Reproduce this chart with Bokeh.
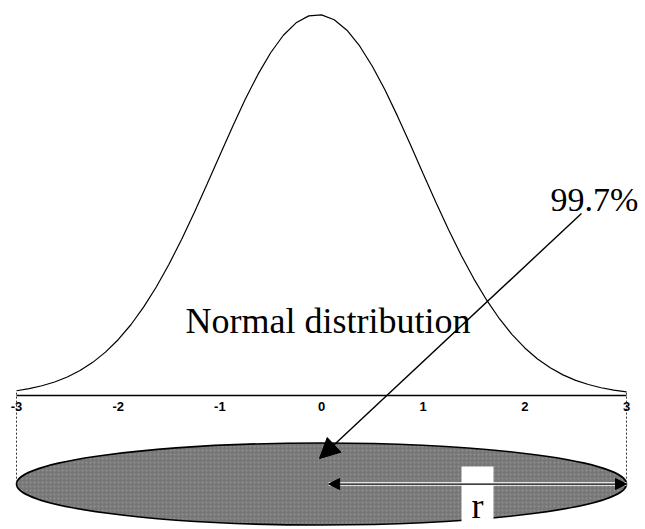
from bokeh.plotting import figure
from bokeh.models import Range1d, LinearAxis, FixedTicker, Arrow, NormalHead, Label
from bokeh.embed import file_html
from bokeh.resources import INLINE

# ---- data ----
z_values = [-3.0, -2.875, -2.75, -2.625, -2.5, -2.375, -2.25, -2.125,
            -2.0, -1.875, -1.75, -1.625, -1.5, -1.375, -1.25, -1.125,
            -1.0, -0.875, -0.75, -0.625, -0.5, -0.375, -0.25, -0.125,
            0.0, 0.125, 0.25, 0.375, 0.5, 0.625, 0.75, 0.875,
            1.0, 1.125, 1.25, 1.375, 1.5, 1.625, 1.75, 1.875,
            2.0, 2.125, 2.25, 2.375, 2.5, 2.625, 2.75, 2.875, 3.0]
density = [0.005, 0.0072, 0.0102, 0.0141, 0.0194, 0.0261, 0.0347, 0.0454,
           0.0584, 0.0741, 0.0925, 0.1136, 0.1374, 0.1637, 0.1919, 0.2215,
           0.2516, 0.2815, 0.3101, 0.3362, 0.3589, 0.3772, 0.3902, 0.3975,
           0.3986, 0.3935, 0.3825, 0.3660, 0.3448, 0.3198, 0.2920, 0.2625,
           0.2323, 0.2024, 0.1736, 0.1466, 0.1219, 0.0998, 0.0804, 0.0638,
           0.0498, 0.0383, 0.0290, 0.0216, 0.0158, 0.0115, 0.0081, 0.0057, 0.0039]
tick_values = [-3, -2, -1, 0, 1, 2, 3]
tick_labels = ["-3", "-2", "-1", "0", "1", "2", "3"]
coverage_label = "99.7%"
title_label = "Normal distribution"
radius_label = "r"
sigma_limit = 3

# ---- figure ----
p = figure(width=645, height=529, output_backend="svg", toolbar_location=None,
           x_range=Range1d(-3.1574, 3.1869), y_range=Range1d(-0.1403, 0.4136),
           x_axis_type=None, y_axis_type=None, min_border=0,
           background_fill_color="white", border_fill_color="white")
p.outline_line_color = None
p.xgrid.visible = False
p.ygrid.visible = False

# axis through y = 0
ax = LinearAxis(fixed_location=0, bounds=(tick_values[0], tick_values[-1]),
                ticker=FixedTicker(ticks=tick_values),
                major_label_overrides={v: s for v, s in zip(tick_values, tick_labels)})
ax.axis_line_color = "black"
ax.axis_line_width = 1.6
ax.major_tick_line_color = None
ax.minor_tick_line_color = None
ax.major_tick_in = 0
ax.major_tick_out = 0
ax.major_label_standoff = 6
ax.major_label_text_font = "Liberation Sans Narrow, Liberation Sans, sans-serif"
ax.major_label_text_font_style = "bold"
ax.major_label_text_font_size = "13px"
ax.major_label_text_color = "black"
p.add_layout(ax, "below")

# normal curve
p.line(z_values, density, line_color="black", line_width=1.2)

# ellipse (radius = sigma_limit)
ell_y = -0.0927
p.ellipse(x=[0], y=[ell_y], width=[2 * sigma_limit], height=[0.0859],
          fill_color="#777777", line_color="black", line_width=1.6,
          hatch_pattern="dot", hatch_color="#b0b0b0", hatch_scale=4, hatch_alpha=0.5)

# dotted lines from axis ends to ellipse tips
p.segment(x0=[-sigma_limit, sigma_limit], y0=[0.003, 0.003],
          x1=[-sigma_limit, sigma_limit], y1=[ell_y, ell_y],
          line_color="#333333", line_width=1, line_dash="2 2")

# radius arrow
p.segment(x0=[0.07], y0=[ell_y], x1=[sigma_limit], y1=[ell_y],
          line_color="white", line_width=3.5)
p.add_layout(Arrow(x_start=0.07, y_start=ell_y, x_end=sigma_limit, y_end=ell_y,
                   line_color="black", line_width=1.2,
                   start=NormalHead(size=11, fill_color="black", line_color="black"),
                   end=NormalHead(size=11, fill_color="black", line_color="black")))

# white box with r
p.quad(left=[1.377], right=[1.692], top=[-0.0743], bottom=[-0.133],
       fill_color="white", line_color=None)
p.add_layout(Label(x=1.534, y=-0.1162, text=radius_label, text_align="center",
                   text_baseline="alphabetic", text_font="Liberation Serif",
                   text_font_size="36px", text_color="black"))

# 99.7% arrow
p.add_layout(Arrow(x_start=2.557, y_start=0.1906, x_end=-0.02, y_end=-0.066,
                   line_color="black", line_width=1.4,
                   end=NormalHead(size=20, fill_color="black", line_color="black")))

p.add_layout(Label(x=2.252, y=0.2052, text=coverage_label, text_align="left",
                   text_baseline="alphabetic", text_font="Liberation Serif",
                   text_font_size="34px", text_color="black"))
p.add_layout(Label(x=-1.338, y=0.0785, text=title_label, text_align="left",
                   text_baseline="alphabetic", text_font="Liberation Serif",
                   text_font_size="36px", text_color="black"))

open("out.html", "w").write(file_html(p, INLINE))
